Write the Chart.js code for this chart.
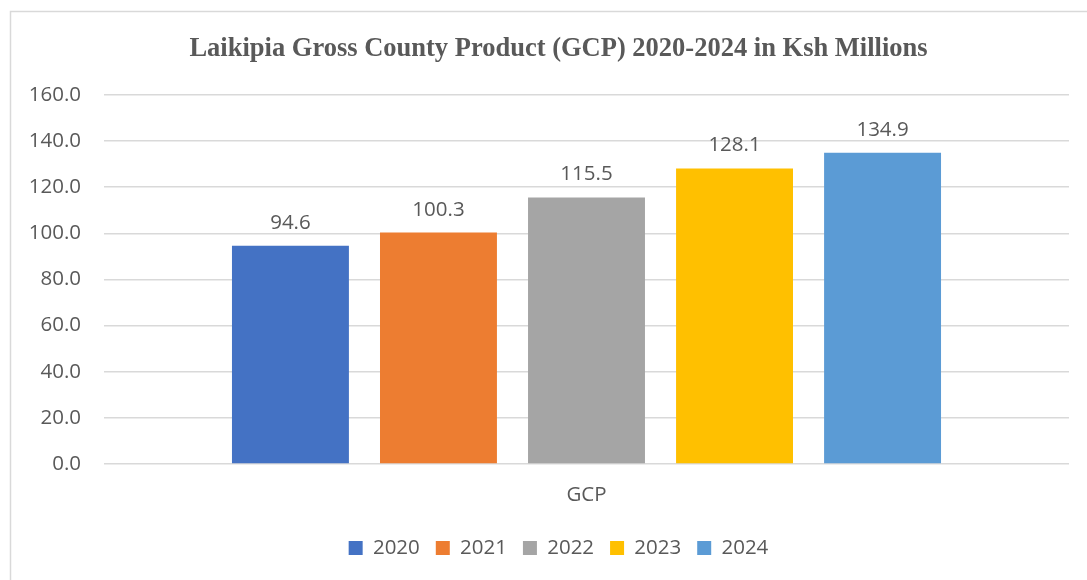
<!DOCTYPE html>
<html>
<head>
<meta charset="utf-8">
<script src="https://cdn.jsdelivr.net/npm/chart.js@4.4.0/dist/chart.umd.min.js"></script>
<style>
  html, body { margin: 0; padding: 0; background: #ffffff; }
  #wrap { width: 1087px; height: 580px; position: relative; }
</style>
</head>
<body>
<div id="wrap"><canvas id="c" width="1087" height="580"></canvas></div>
<script>
const titleText = "Laikipia Gross County Product (GCP) 2020-2024 in Ksh Millions";
const categories = ["GCP"];
const seriesNames = ["2020", "2021", "2022", "2023", "2024"];
const seriesValues = [94.6, 100.3, 115.5, 128.1, 134.9];
const seriesColors = ["#4472C4", "#ED7D31", "#A5A5A5", "#FFC000", "#5B9BD5"];
const yTicks = [0, 20, 40, 60, 80, 100, 120, 140, 160];

const textColor = "#595959";
const sansFont = "'Open Sans', 'Liberation Sans', sans-serif";
const fontSize = 20.5;

const datasets = seriesNames.map((name, i) => ({
  label: name,
  data: [seriesValues[i]],
  backgroundColor: seriesColors[i],
  borderWidth: 0,
  categoryPercentage: 0.767,
  barPercentage: 0.79
}));

const frame = {
  id: 'frame',
  beforeDraw(chart) {
    const ctx = chart.ctx;
    ctx.save();
    ctx.fillStyle = '#ffffff';
    ctx.fillRect(0, 0, chart.width, chart.height);
    ctx.strokeStyle = '#d9d9d9';
    ctx.lineWidth = 1.5;
    ctx.beginPath();
    ctx.moveTo(10.5, chart.height);
    ctx.lineTo(10.5, 11.5);
    ctx.lineTo(chart.width, 11.5);
    ctx.stroke();
    ctx.restore();
  }
};

// Title and legend in the reference are centred a little left of the plot centre
const centreShift = {
  id: 'centreShift',
  afterLayout(chart) {
    const d = 34;
    if (chart.titleBlock) chart.titleBlock.left += d;
    if (chart.legend) chart.legend.left += d;
  }
};

const valueLabels = {
  id: 'valueLabels',
  afterDatasetsDraw(chart) {
    const ctx = chart.ctx;
    ctx.save();
    ctx.fillStyle = textColor;
    ctx.font = fontSize + "px " + sansFont;
    ctx.textAlign = 'center';
    ctx.textBaseline = 'alphabetic';
    chart.data.datasets.forEach((ds, i) => {
      const meta = chart.getDatasetMeta(i);
      meta.data.forEach((bar, j) => {
        ctx.fillText(ds.data[j].toFixed(1), bar.x, bar.y - 17);
      });
    });
    ctx.restore();
  }
};

new Chart(document.getElementById('c'), {
  type: 'bar',
  data: { labels: categories, datasets },
  plugins: [frame, centreShift, valueLabels],
  options: {
    responsive: false,
    animation: false,
    layout: { padding: { left: 14, right: 18, top: 33, bottom: 11.75 } },
    plugins: {
      title: {
        display: true,
        text: titleText,
        color: textColor,
        font: { family: "'Liberation Serif', 'Times New Roman', serif", size: 26.5, weight: 'bold' },
        padding: { top: 0, bottom: 30 }
      },
      legend: {
        position: 'bottom',
        labels: {
          color: textColor,
          font: { family: sansFont, size: fontSize },
          boxWidth: 14,
          boxHeight: 14,
          padding: 16
        }
      },
      tooltip: { enabled: false }
    },
    scales: {
      x: {
        grid: { display: false },
        border: { display: false },
        afterFit(scale) { scale.height = 57.75; },
        ticks: { color: textColor, font: { family: sansFont, size: fontSize }, padding: 11 }
      },
      y: {
        min: 0,
        max: 160,
        afterBuildTicks(scale) { scale.ticks = yTicks.map(v => ({ value: v })); },
        afterFit(scale) { scale.width = 104 - 14; },
        grid: { color: '#d9d9d9', lineWidth: 1.5, drawTicks: false },
        border: { display: false },
        ticks: {
          color: textColor,
          font: { family: sansFont, size: fontSize },
          padding: 23,
          callback: v => Number(v).toFixed(1)
        }
      }
    }
  }
});
</script>
</body>
</html>
